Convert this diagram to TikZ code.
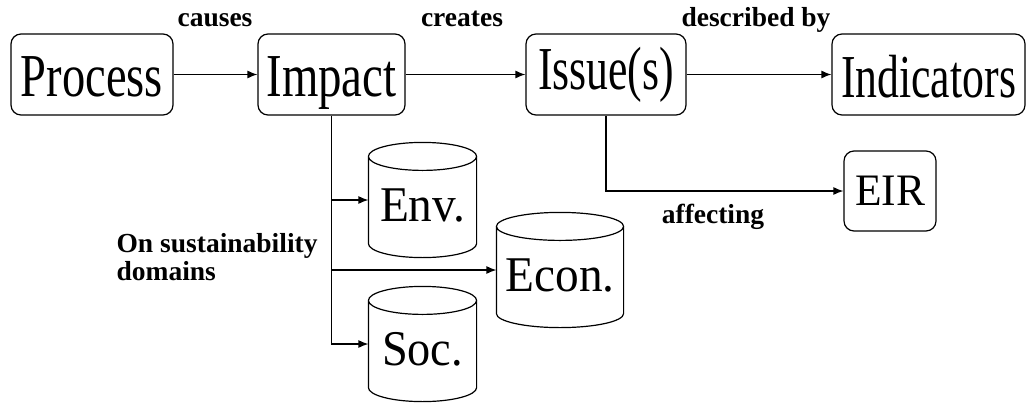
\documentclass[tikz,border=0pt]{standalone}
\usepackage{fontspec}
\setmainfont{Liberation Serif}
\usetikzlibrary{arrows.meta,calc}

% stretch a label to a given width, keeping its height
\newcommand\widebox[2]{\resizebox{#1}{\height}{#2}}

% cylinder outline around a named node
\newcommand\drumoutline[1]{%
  \draw let \p1=(#1.north west), \p2=(#1.south east), \n1={(\x2-\x1)/2} in
    (\x1,\y1-14pt) -- (\x1,\y2+14pt)
    arc[start angle=180, end angle=360, x radius=\n1, y radius=14pt]
    -- (\x2,\y1-14pt)
    ([yshift=-14pt]#1.north) ellipse[x radius=\n1, y radius=14pt];}

\tikzset{
  stage/.style={draw, rounded corners=10pt, minimum height=81pt, inner sep=0pt,
    text height=44pt, text depth=0pt, font=\fontsize{61}{61}\selectfont},
  drum/.style={minimum width=107pt, minimum height=114pt, inner sep=0pt,
    text height=42pt, text depth=0pt, font=\fontsize{50}{50}\selectfont},
  tag/.style={font=\bfseries\fontsize{27.5}{28}\selectfont, inner sep=0pt},
  link/.style={-{Latex[length=10pt,width=8pt]}},
}

\begin{document}
\begin{tikzpicture}[x=1pt, y=1pt, line width=1.2pt]
\useasboundingbox (0,0) rectangle (1027,-402);

% main chain
\node[stage, minimum width=162pt] (proc) at (92,-74.5) {\widebox{142pt}{Process}};
\node[stage, minimum width=147pt] (imp) at (331.5,-74.5) {\widebox{130pt}{Impact}};
\node[stage, minimum width=160pt, text depth=15pt] (iss) at (606,-74.5) {\widebox{136pt}{Issue(s)}};
\node[stage, minimum width=193pt, text height=46pt] (ind) at (928.5,-74.5) {\widebox{175pt}{Indicators}};
\node[stage, minimum width=92pt, minimum height=80pt, text height=28pt,
      font=\fontsize{45}{45}\selectfont] (eir) at (890,-191) {\widebox{70pt}{EIR}};

% sustainability domains
\node[drum] (env) at (422.5,-200) {\widebox{85pt}{Env.}};
\node[drum, minimum width=126pt] (econ) at (560,-270) {\widebox{109pt}{Econ.}};
\node[drum] (soc) at (422.5,-344) {\widebox{81pt}{Soc.}};
\drumoutline{env}
\drumoutline{econ}
\drumoutline{soc}

% connectors
\draw[link] (proc) -- (imp);
\draw[link] (imp) -- (iss);
\draw[link] (iss) -- (ind);
\draw[link] (imp.south) |- (soc.west);
\draw[link] (imp.south |- env.west) -- (env.west);
\draw[link] (imp.south |- econ.west) -- (econ.west);
\draw[link] (iss.south) |- (eir.west);

% relation labels
\node[tag, anchor=base] (causes) at (215,-26) {causes};
\node[tag, anchor=base] (creates) at (462,-26) {creates};
\node[tag, anchor=base] (descr) at (756,-26) {described by};
\node[tag, anchor=base] (affect) at (713,-223) {affecting};
% base anchor of a two-line node sits on its last line
\node[tag, anchor=base west, align=left] (dom) at (116,-280) {On sustainability\\domains};
\end{tikzpicture}
\end{document}
